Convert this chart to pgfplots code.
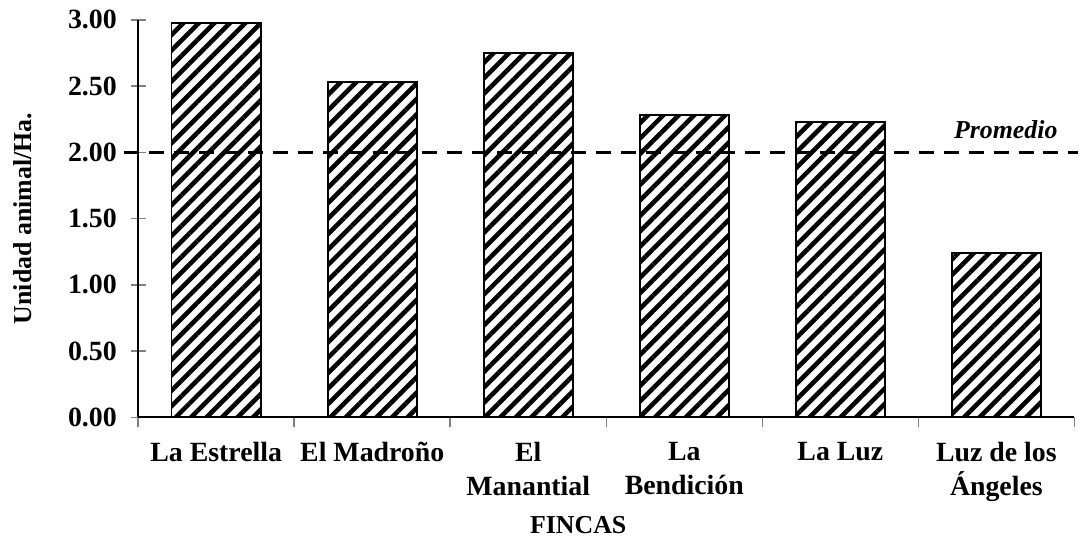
\documentclass[border=0pt]{standalone}
\usepackage{fontspec}
\setmainfont{Liberation Serif}
\usepackage{pgfplots}
\pgfplotsset{compat=1.18}
\usetikzlibrary{patterns.meta}
\begin{document}
\begin{tikzpicture}
\begin{axis}[
  scale only axis,
  width=471pt, height=200pt,
  xmin=-0.5, xmax=5.5,
  ymin=0, ymax=3,
  clip=false,
  axis lines*=left,
  axis line style={line width=1pt},
  xtick={0,1,2,3,4,5},
  xticklabels={La Estrella, El Madroño, El\\Manantial, La\\Bendición, La Luz, Luz de los\\Ángeles},
  major x tick style={draw=none},
  minor xtick={-0.5,0.5,1.5,2.5,3.5,4.5,5.5},
  minor x tick style={line width=0.8pt},
  minor tick length=5pt,
  x tick label style={font=\bfseries\fontsize{14}{17}\selectfont, align=center, anchor=north, yshift=-1.5pt},
  ytick={0,0.5,1,1.5,2,2.5,3},
  y tick label style={font=\bfseries\fontsize{14}{16}\selectfont, xshift=-3.5pt, /pgf/number format/fixed, /pgf/number format/fixed zerofill, /pgf/number format/precision=2},
  /pgf/number format/assume math mode=true,
  ytick align=center,
  xtick align=outside,
  major tick length=7.5pt,
  major y tick style={line width=0.8pt},
  ylabel={Unidad animal/Ha.},
  ylabel style={font=\bfseries\fontsize{13}{15}\selectfont, at={(axis description cs:-0.123,0.5)}, anchor=center, inner sep=7pt},
  xlabel={FINCAS},
  xlabel style={font=\bfseries\fontsize{13}{15}\selectfont, at={(axis description cs:0.47,0)}, anchor=center, yshift=-54pt},
]
\addplot[ybar, bar width=45pt, bar shift=0pt, draw=black, line width=1pt,
  pattern={Lines[angle=45,distance=5.5pt,line width=2.3pt]}, pattern color=black]
  coordinates {(0,2.98) (1,2.53) (2,2.75) (3,2.28) (4,2.23) (5,1.24)};
\addplot[black, line width=1.5pt, dash pattern=on 7.5pt off 5pt]
  coordinates {(-0.59,2) (5.52,2)};
\node[font=\bfseries\itshape\fontsize{13}{15}\selectfont] at (axis cs:5.06,2.175) {Promedio};
\end{axis}
\path ([yshift=-65pt]current axis.south west) ([yshift=10pt]current axis.north west);
\end{tikzpicture}
\end{document}
